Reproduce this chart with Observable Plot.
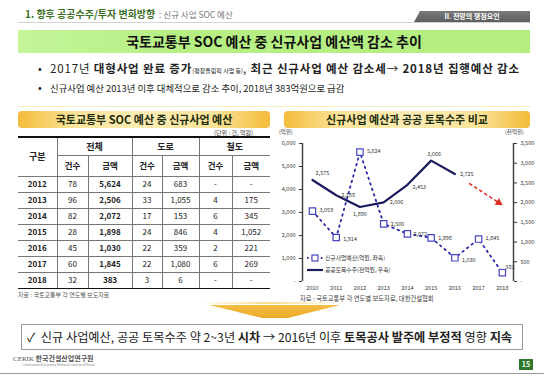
<!DOCTYPE html>
<html><head><meta charset="utf-8">
<script src="https://cdn.jsdelivr.net/npm/d3@7"></script>
<script src="https://cdn.jsdelivr.net/npm/@observablehq/plot@0.6"></script>
<style>
html,body{margin:0;padding:0;background:#fff;}
body{width:544px;height:376px;position:relative;overflow:hidden;font-family:"Noto Sans CJK KR","Noto Sans",sans-serif;color:#222;}
.a{position:absolute;white-space:nowrap;}
#tbl{position:absolute;left:18px;top:136px;border-collapse:collapse;font-size:8px;table-layout:fixed;}
#tbl td,#tbl th{border:1px solid #777;text-align:center;padding:0;line-height:1;}
#tbl th{font-weight:bold;font-size:8.5px;}
#tbl tr:first-child th{border-top:2px solid #111;}
#tbl tr:last-child td{border-bottom:1.5px solid #111;}
#tbl td:first-child,#tbl th:first-child{border-left:none;}
#tbl td:last-child,#tbl th:last-child{border-right:none;}
.bar{position:absolute;height:17px;border-radius:4px;background:linear-gradient(to right,#f3bb3a,#fbe49a 22%,#fcecb4 50%,#fbe49a 78%,#f3bb3a);text-align:center;font-weight:bold;font-size:11px;line-height:17px;color:#1d2d10;}
</style></head><body>
<script>
// ---------- data ----------
const tableYears = [2012, 2013, 2014, 2015, 2016, 2017, 2018];
const totalCount = ["78", "96", "82", "28", "45", "60", "32"];
const totalAmount = ["5,624", "2,506", "2,072", "1,898", "1,030", "1,845", "383"];
const roadCount = ["24", "33", "17", "24", "22", "22", "3"];
const roadAmount = ["683", "1,055", "153", "846", "359", "1,080", "6"];
const railCount = ["-", "4", "6", "4", "2", "6", "-"];
const railAmount = ["-", "175", "345", "1,052", "221", "269", "-"];

const chartYears = [2010, 2011, 2012, 2013, 2014, 2015, 2016, 2017, 2018];
const newBudget = [3059, 1914, 5624, 2506, 2072, 1898, 1030, 1845, 383];     // 억원, left axis
const orderYears = [2010, 2011, 2012, 2013, 2014, 2015, 2016];
const publicOrders = [2575, 2188, 1890, 2006, 2453, 3066, 2725];           // 천억원, right axis
const leftTicks = [0, 1000, 2000, 3000, 4000, 5000, 6000];
const rightTicks = [0, 500, 1000, 1500, 2000, 2500, 3000, 3500];
const trendYears = [2016.6, 2017.85];       // red dashed trend arrow (right-axis values)
const trendValues = [2490, 2000];

// ---------- slide ----------
const B = document.body;
function add(html){ B.insertAdjacentHTML("beforeend", html); }

add(`<div class="a" style="left:25px;top:7px;font-size:10px;font-weight:bold;color:#3d7128;line-height:14px;">1. 향후 공공수주/투자 변화방향<span style="font-weight:normal;color:#777;font-size:8.5px;"> &nbsp;: 신규 사업 SOC 예산</span></div>`);
add(`<div class="a" style="left:18px;top:22px;width:512px;height:0;border-top:1.5px solid #d2d2d2;"></div>`);
add(`<div class="a" style="left:414px;top:11px;width:116px;height:11px;background:linear-gradient(#7a7a7a,#5e5e5e);clip-path:polygon(6px 0,100% 0,100% 100%,0 100%);color:#fff;font-size:7px;font-weight:bold;line-height:11px;text-align:center;">II. 전망의 쟁점요인</div>`);
add(`<div class="a" style="left:18px;top:30px;width:512px;height:23px;background:linear-gradient(to right,#c4f59a,#b6ef84 30%,#b4ee80);text-align:center;font-size:14px;font-weight:bold;line-height:23px;color:#111;">국토교통부 SOC 예산 중 신규사업 예산액 감소 추이</div>`);
add(`<div class="a" style="left:38px;top:61px;font-size:11px;line-height:15px;color:#222;">•</div>`);
add(`<div class="a" style="left:50px;top:61px;font-size:11.5px;line-height:15px;color:#222;letter-spacing:0.85px;">2017년 <b>대형사업 완료 증가</b><span style="font-size:6px;letter-spacing:0;">(평창올림픽 사업 등)</span>, <b>최근 신규사업 예산 감소세</b>→ <b>2018년 집행예산 감소</b></div>`);
add(`<div class="a" style="left:38px;top:80px;font-size:11px;line-height:15px;color:#222;">•</div>`);
add(`<div class="a" style="left:50px;top:81px;font-size:9.4px;line-height:15px;color:#222;">신규사업 예산 2013년 이후 대체적으로 감소 추이, 2018년 383억원으로 급감</div>`);
add(`<div class="a" style="left:18px;top:106px;width:512px;height:1px;background:#f3eec4;"></div>`);

// left table
add(`<div class="bar" style="left:18px;top:111px;width:252px;">국토교통부 SOC 예산 중 신규사업 예산</div>`);
add(`<div class="a" style="left:214px;top:128px;font-size:6px;color:#444;">(단위 : 건, 억원)</div>`);
const colW = [39, 31, 44, 30, 37, 33, 38];
let t = `<table id="tbl"><colgroup>${colW.map(w=>`<col style="width:${w}px">`).join("")}</colgroup>`;
t += `<tr style="height:18px"><th rowspan="2" style="font-size:9px">구분</th><th colspan="2" style="font-size:9px">전체</th><th colspan="2" style="font-size:9px">도로</th><th colspan="2" style="font-size:9px">철도</th></tr>`;
t += `<tr style="height:21px">${["건수","금액","건수","금액","건수","금액"].map(s=>`<th>${s}</th>`).join("")}</tr>`;
tableYears.forEach((y,i)=>{
  t += `<tr style="height:16px"><td style="font-weight:bold">${y}</td><td>${totalCount[i]}</td><td style="font-weight:bold">${totalAmount[i]}</td><td>${roadCount[i]}</td><td>${roadAmount[i]}</td><td>${railCount[i]}</td><td>${railAmount[i]}</td></tr>`;
});
t += `</table>`;
add(t);
add(`<div class="a" style="left:18px;top:290px;font-size:6px;color:#555;">자료 : 국토교통부 각 연도별 보도자료</div>`);

// right chart
add(`<div class="bar" style="left:284px;top:111px;width:246px;">신규사업 예산과 공공 토목수주 비교</div>`);
add(`<div class="a" style="left:279px;top:128px;font-size:5.5px;color:#444;">(억원)</div>`);
add(`<div class="a" style="left:505px;top:128px;font-size:5.5px;color:#444;">(천억원)</div>`);

const k = 6000 / 3500;
const xDomain = [2009.58, 2018.47];
const fmt = v => v === 0 ? "-" : d3.format(",")(v);
const budgetData = chartYears.map((year, i) => ({year, value: newBudget[i]}));
const orderData = orderYears.map((year, i) => ({year, value: publicOrders[i]}));
// label placement (style only)
const bPlace = {2010:[7,-1,"start"],2011:[7,2,"start"],2012:[7,-1,"start"],2013:[7,0,"start"],2014:[6,0,"start"],2015:[7,0,"start"],2016:[7,2,"start"],2017:[7,-1,"start"],2018:[3,-5,"start"]};
const oPlace = {2010:[10,-7,"middle"],2011:[5,0,"start"],2012:[0,7,"middle"],2013:[6,0,"start"],2014:[5,2,"start"],2015:[3,-6,"middle"],2016:[5,0,"start"]};
const trend = [{x1: trendYears[0], y1: trendValues[0]*k, x2: trendYears[1], y2: trendValues[1]*k}];

function labelLayer(data, place, yf){
  return data.map(d => {
    const [dx, dy, anchor] = place[d.year];
    return Plot.text([d], {x: "year", y: yf, text: dd => d3.format(",")(dd.value), dx, dy, textAnchor: anchor, fill: "#333"});
  });
}

const chart = Plot.plot({
  width: 268, height: 176,
  marginLeft: 30, marginRight: 27, marginTop: 19, marginBottom: 19,
  x: {domain: xDomain, axis: null},
  y: {domain: [0, 6000], axis: null},
  style: {fontFamily: "'Noto Sans CJK KR', 'Noto Sans', sans-serif", fontSize: "5.5px", background: "transparent", color: "#333", overflow: "visible"},
  marks: [
    Plot.axisY({ticks: leftTicks, tickFormat: fmt, tickSize: 3, tickPadding: 4, anchor: "left"}),
    Plot.axisY({ticks: rightTicks.map(v => v * k), tickFormat: v => fmt(Math.round(v / k)), tickSize: 3, tickPadding: 4, anchor: "right"}),
    Plot.axisX({ticks: chartYears, tickFormat: d => String(d), tickSize: 0, tickPadding: 5}),
    Plot.ruleX([xDomain[0]], {y1: 0, y2: 6000, stroke: "#444", strokeWidth: 1.5}),
    Plot.ruleX([xDomain[1]], {y1: 0, y2: 6000, stroke: "#444", strokeWidth: 1.5}),
    Plot.line(orderData, {x: "year", y: d => d.value * k, stroke: "#1b1b5e", strokeWidth: 2.2}),
    Plot.line(budgetData, {x: "year", y: "value", stroke: "#2a2aa6", strokeWidth: 1.8, strokeDasharray: "1.6,4.2"}),
    Plot.dot(budgetData, {x: "year", y: "value", symbol: "square", r: 3.6, stroke: "#4646c4", fill: "white", strokeWidth: 1.2}),
    ...labelLayer(budgetData, bPlace, "value"),
    ...labelLayer(orderData, oPlace, d => d.value * k),
    Plot.link(trend, {x1: "x1", y1: "y1", x2: "x2", y2: "y2", stroke: "#e0302a", strokeWidth: 1.6, strokeDasharray: "3.5,2.5"}),
    Plot.dot(trend, {x: "x2", y: "y2", symbol: "triangle", r: 3, fill: "#e0302a", stroke: "none", rotate: 123})
  ]
});
chart.style.position = "absolute";
chart.style.left = "272px";
chart.style.top = "124px";
B.appendChild(chart);

// legend
add(`<svg class="a" style="left:305px;top:252px;" width="110" height="24" font-family="'Noto Sans CJK KR',sans-serif" font-size="5.8">
<line x1="2" y1="6" x2="18" y2="6" stroke="#2a2aa6" stroke-width="1.8" stroke-dasharray="1.6,3"/>
<rect x="7" y="3" width="6" height="6" fill="#fff" stroke="#4646c4" stroke-width="1.2"/>
<text x="20" y="8" fill="#333">신규사업예산(억원, 좌축)</text>
<line x1="2" y1="18" x2="18" y2="18" stroke="#1b1b5e" stroke-width="2.2"/>
<text x="20" y="20" fill="#333">공공토목수주(천억원, 우축)</text></svg>`);
add(`<div class="a" style="left:300px;top:294px;font-size:6.3px;color:#444;">자료 : 국토교통부 각 연도별 보도자료, 대한건설협회</div>`);
add(`<div class="a" style="left:200px;top:302px;width:140px;height:2px;background:linear-gradient(to right,rgba(246,206,90,0),rgba(246,206,90,0.7),rgba(246,206,90,0));"></div>`);

// bottom
add(`<svg class="a" style="left:0;top:0;" width="544" height="376"><defs><linearGradient id="cg" x1="0" x2="0" y1="0" y2="1"><stop offset="0" stop-color="#f4be45"/><stop offset="1" stop-color="#eeaa28"/></linearGradient></defs>
<polygon points="209,305 340,305 288,318 262,318" fill="url(#cg)"/></svg>`);
add(`<div class="a" style="left:21px;top:324px;width:502px;height:26px;border:1px solid #9a9a9a;box-sizing:border-box;"></div>`);
add(`<div class="a" style="left:27px;top:329px;font-size:12.2px;line-height:16px;color:#222;">✓ &nbsp;신규 사업예산, 공공 토목수주 약 2~3년 <b>시차</b> → 2016년 이후 <b>토목공사 발주에 부정적</b> 영향 <b>지속</b></div>`);
add(`<div class="a" style="left:13px;top:354px;font-size:7px;color:#555;line-height:9px;"><span style="font-family:'Liberation Serif',serif;">CERIK</span> <b>한국건설산업연구원</b></div>`);
add(`<div class="a" style="left:22px;top:363px;font-size:3px;color:#888;line-height:4px;">Construction &amp; Economy Research Institute of Korea</div>`);
add(`<div class="a" style="left:519px;top:359px;width:14px;height:11px;background:#2f7a2a;color:#fff;font-size:7px;font-weight:bold;line-height:11px;text-align:center;">15</div>`);
add(`<div class="a" style="left:0;top:373px;width:544px;height:1px;background:#9a9a9a;"></div>`);
</script>
</body></html>
